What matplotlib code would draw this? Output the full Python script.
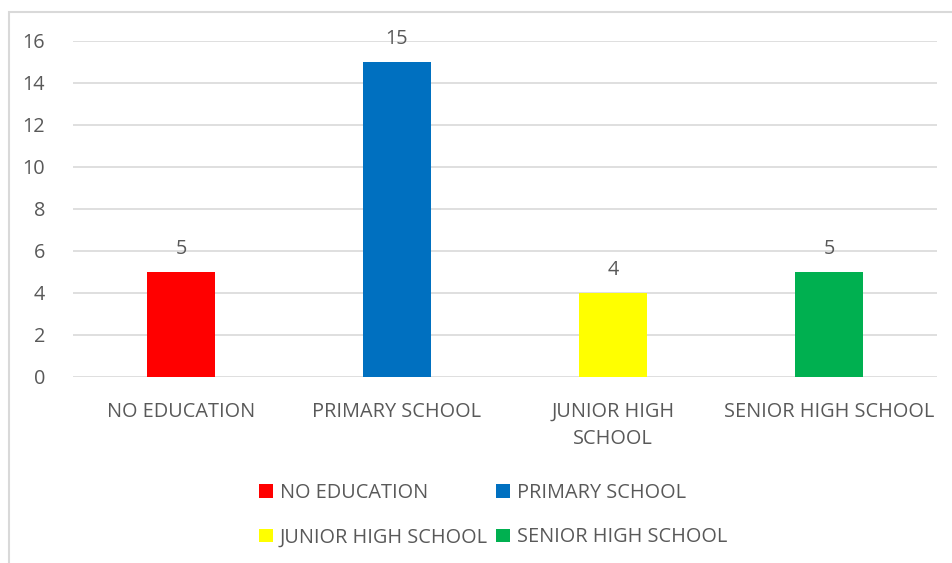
import matplotlib.pyplot as plt
from matplotlib.patches import Rectangle, Patch

categories = ['NO EDUCATION', 'PRIMARY SCHOOL', 'JUNIOR HIGH SCHOOL', 'SENIOR HIGH SCHOOL']
tick_labels = ['NO EDUCATION', 'PRIMARY SCHOOL', 'JUNIOR HIGH\nSCHOOL', 'SENIOR HIGH SCHOOL']
counts = [5, 15, 4, 5]
colors = ['#FF0000', '#0070C0', '#FFFF00', '#00B050']

plt.rcParams['font.family'] = ['Open Sans', 'DejaVu Sans']
txt = '#595959'
fs = 14.3

fig = plt.figure(figsize=(9.53, 5.63), dpi=100)
# outer chart border (only top/left show in the crop)
fig.patches.append(Rectangle((9/953, -0.1), 1.2, 1 - 12/563 + 0.1, transform=fig.transFigure,
                             fill=False, edgecolor='#D9D9D9', linewidth=1.5))

ax = fig.add_axes([73/953, 1 - 377/563, 864/953, 336/563])
x = range(len(categories))
bars = ax.bar(x, counts, width=0.315, color=colors, zorder=3)
for b, v in zip(bars, counts):
    ax.annotate(str(v), (b.get_x() + b.get_width() / 2, v), xytext=(0, 9.5),
                textcoords='offset points', ha='center', va='bottom', fontsize=fs, color=txt)

ax.set_xlim(-0.5, 3.5)
ax.set_ylim(0, 16)
ax.set_yticks(range(0, 17, 2))
ax.set_xticks(list(x))
ax.set_xticklabels(tick_labels, linespacing=1.5)
ax.grid(axis='y', color='#D9D9D9', linewidth=1.2, zorder=0)
for s in ax.spines.values():
    s.set_visible(False)
ax.tick_params(length=0, labelsize=fs, labelcolor=txt)
ax.tick_params(axis='x', pad=18)
ax.tick_params(axis='y', pad=20)

# legend is filled row by row in the reference, matplotlib fills by column
order = [0, 2, 1, 3]
handles = [Patch(facecolor=colors[i], label=categories[i]) for i in order]
fig.legend(handles=handles, ncol=2, loc='center', bbox_to_anchor=(493/953, 1 - 515/563),
           frameon=False, fontsize=fs, labelcolor=txt, handlelength=0.7, handleheight=0.7,
           handletextpad=0.35, columnspacing=0.4, labelspacing=1.25)

fig.savefig('out.png', dpi=100)
